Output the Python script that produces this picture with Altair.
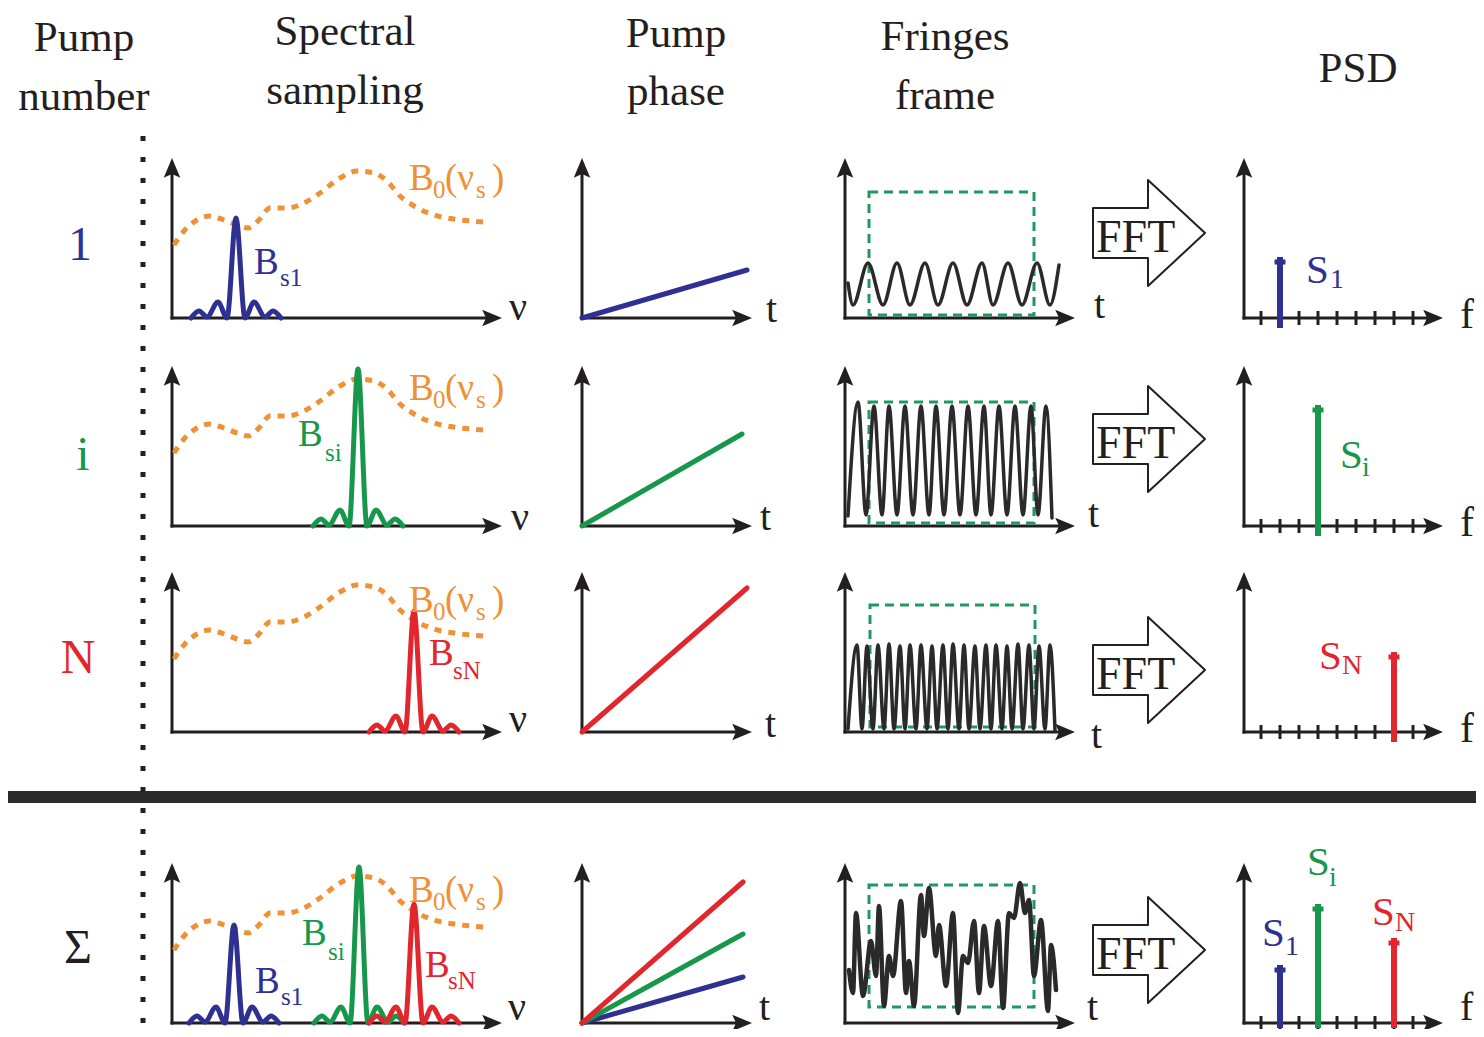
import altair as alt
import pandas as pd

FONT = "Liberation Serif"
INK = "#231F20"
BLUE, GREEN, RED = "#2E3192", "#16974B", "#E1262D"
ORANGE = "#EF9135"
FRAME = "#1F9A5E"

# ------------------------------------------------------------------ data
HEADER_TOP = ["Pump", "Spectral", "Pump", "Fringes", "PSD"]
HEADER_BOTTOM = ["number", "sampling", "phase", "frame", ""]
ROW_LABELS = ["1", "i", "N", "Σ"]
ROW_LABEL_COLORS = [BLUE, GREEN, RED, INK]
PUMP_COLORS = [BLUE, GREEN, RED]
SUB_B = ["s1", "si", "sN"]
SUB_S = ["1", "i", "N"]

# source spectrum B0(nu_s): nu offset / level (panel units)
B0_NU = [2, 12, 25, 38, 52, 65, 76, 86, 98, 115, 132, 148, 168, 185, 202, 215, 228, 242, 262, 282, 312]
B0_LEVEL = [73, 87, 98, 102, 98, 93, 90, 97, 110, 110, 115, 125, 140, 147, 145, 137, 122, 112, 103, 99, 96]

# sampled line shape (sinc-like): offsets and side-lobe levels, main lobe flag
SINC_DNU = [-45, -37, -29, -18, -9, 0, 9, 18, 29, 37, 45]
SINC_LOBE = [0, 7, 1, 16, 0, 0, 0, 16, 1, 7, 0]
SINC_MAIN = [0, 0, 0, 0, 0, 1, 0, 0, 0, 0, 0]

SAMPLE_NU = [64, 186, 242]
SAMPLE_AMP = [100, 157, 121]
SUM_SAMPLE_NU = [62, 187, 242]
SUM_SAMPLE_AMP = [98, 156, 119]

PHASE_T_END = [165, 160, 165]
PHASE_END = [48, 92, 144]
SUM_PHASE_T_END = 161
SUM_PHASE_END = [46, 89, 141]

# fringes: extrema (time, intensity)
FR1_T = [3, 8, 23, 38, 52, 65, 80, 93, 108, 122, 137, 148, 163, 177, 192, 205, 214]
FR1_I = [35, 13, 55, 13, 55, 13, 55, 13, 55, 13, 55, 13, 55, 13, 55, 13, 53]
FR2_T = [3, 13, 21, 29, 37, 44, 52, 60, 68, 76, 84, 91, 99, 107, 115, 123, 131, 139, 146, 154,
         162, 170, 178, 186, 193, 201, 207]
FR2_I = [10, 124, 11, 120, 11, 120, 11, 120, 11, 120, 11, 120, 11, 120, 11, 120, 11, 120, 11, 120,
         11, 120, 11, 120, 11, 120, 8]
FR3_T = [3, 12, 17, 22, 28, 33, 39, 44, 49, 55, 60, 65, 71, 76, 82, 87, 92, 98, 103, 108, 114, 119,
         124, 130, 135, 141, 146, 151, 157, 162, 167, 173, 178, 184, 189, 194, 200, 205, 210]
FR3_I = [3, 87, 3, 86, 3, 87, 3, 88, 3, 86, 3, 87, 3, 87, 3, 86, 3, 87, 3, 88, 3, 87, 3, 86,
         3, 87, 3, 87, 3, 86, 3, 88, 3, 87, 3, 86, 3, 87, 2]
FRS_T = [4, 8, 11, 18, 26, 31, 34, 39, 44, 48, 56, 61, 64, 69, 76, 79, 84, 91, 94, 101, 108, 113,
         118, 123, 129, 134, 139, 146, 153, 158, 164, 169, 175, 180, 184, 189, 196, 203, 206, 211]
FRS_I = [53, 30, 110, 27, 82, 47, 117, 17, 67, 47, 122, 30, 62, 17, 128, 87, 135, 67, 98, 37, 110, 10,
         67, 60, 102, 30, 97, 37, 102, 15, 110, 105, 140, 110, 123, 47, 103, 12, 78, 33]
FRINGE_T = [FR1_T, FR2_T, FR3_T, FRS_T]
FRINGE_I = [FR1_I, FR2_I, FR3_I, FRS_I]

PSD_BINS = [1, 2, 3, 4, 5, 6, 7, 8, 9]
PSD_BIN_OF = [2, 4, 8]
PSD_AMP = [61, 121, 80]
SUM_PSD_AMP = [58, 119, 85]

# ------------------------------------------------------------------ layout (reference pixels)
ROW_Y = [318, 526, 732, 1023]
SPEC_X0, PHASE_X0, FR_X0, PSD_X0 = 172, 582, 845, 1244
XLEN = {"spec": 330, "phase": 170, "fr": 230, "psd": 199}
YLEN = 160
PSD_BIN_X0, PSD_BIN_STEP = -2, 19

NU_LABEL = [(509, 320), (511, 530), (509, 732), (508, 1020)]
PHASE_T_LABEL = [(766, 322), (760, 530), (765, 737), (759, 1020)]
FR_T_LABEL = [(1094, 318), (1088, 527), (1091, 748), (1087, 1020)]
PSD_F_LABEL = [(1460, 328), (1460, 536), (1460, 742), (1460, 1020)]
B0_BASE = [190, 400, 612, 902]
BS_LABEL = [[(254, 274, 280, 286)], [(298, 446, 325, 461)], [(429, 665, 453, 679)],
            [(255, 993, 281, 1005), (302, 945, 328, 960), (425, 977, 448, 989)]]
S_LABEL = [[(1306, 283, 1330, 288)], [(1340, 468, 1362, 476)], [(1319, 669, 1342, 674)],
           [(1262, 946, 1285, 955), (1307, 875, 1329, 886), (1372, 925, 1395, 931)]]
FRAME_BOX = [(869, 1034, 192, 315), (869, 1034, 402, 523), (870, 1035, 605, 727), (869, 1034, 885, 1007)]
FFT_CENTER = [233, 439, 670, 950]
HEADER_X = [84, 345, 676, 945, 1358]
HEADER_Y1 = [51, 45, 47, 50, 82]
HEADER_Y2 = [110, 104, 105, 109, 0]
ROW_LABEL_POS = [(80, 260), (83, 470), (78, 673), (78, 963)]

# ------------------------------------------------------------------ builders
lines, rules, texts, heads_up, heads_right, boxes = {}, {}, [], [], [], []
gid = [0]


def add_line(xs, ys, color, width, dash=None, interp="linear"):
    key = (color, width, tuple(dash) if dash else (), interp)
    gid[0] += 1
    lst = lines.setdefault(key, [])
    for i, (a, b) in enumerate(zip(xs, ys)):
        lst.append({"x": a, "y": b, "g": gid[0], "o": i})


def add_rule(x, y, x2, y2, color, width):
    rules.setdefault((color, width), []).append({"x": x, "y": y, "x2": x2, "y2": y2})


def add_text(x, y, t, size, color=INK, align="left"):
    texts.append({"x": x, "y": y, "t": t, "s": size, "c": color, "a": align})


def axes(x0, y0, xlen, ylen=YLEN):
    add_rule(x0, y0 + 1.5, x0, y0 - ylen + 14, INK, 3)
    add_rule(x0 - 1.5, y0, x0 + xlen - 14, y0, INK, 3)
    heads_up.append({"x": x0, "y": y0 - ylen + 11})
    heads_right.append({"x": x0 + xlen - 11, "y": y0})


def sinc(center, amp, y0, color):
    xs = [SPEC_X0 + center + d for d in SINC_DNU]
    ys = [y0 - (amp if m else l) for l, m in zip(SINC_LOBE, SINC_MAIN)]
    add_line(xs, ys, color, 5, interp="monotone")


def sub_label(main, sub, pos, color, msize, ssize):
    x, y, xs, ys = pos
    add_text(x, y, main, msize, color)
    add_text(xs, ys, sub, ssize, color)


# headers
for i in range(5):
    add_text(HEADER_X[i], HEADER_Y1[i], HEADER_TOP[i], 43, INK, "center")
    if HEADER_BOTTOM[i]:
        add_text(HEADER_X[i], HEADER_Y2[i], HEADER_BOTTOM[i], 43, INK, "center")

# separators
add_line([143, 143], [136, 1028], INK, 5, dash=[5, 16])
add_rule(8, 797, 1476, 797, "#2B2B2B", 12)

for r in range(4):
    y0 = ROW_Y[r]
    lx, ly = ROW_LABEL_POS[r]
    add_text(lx, ly, ROW_LABELS[r], 48, ROW_LABEL_COLORS[r], "center")

    # ---------------- spectral sampling
    axes(SPEC_X0, y0, XLEN["spec"])
    add_line([SPEC_X0 + v for v in B0_NU], [y0 - v for v in B0_LEVEL], ORANGE, 5, dash=[7, 7], interp="monotone")
    if r < 3:
        sinc(SAMPLE_NU[r], SAMPLE_AMP[r], y0, PUMP_COLORS[r])
        sub_label("B", SUB_B[r], BS_LABEL[r][0], PUMP_COLORS[r], 37, 25)
    else:
        for k in range(3):
            sinc(SUM_SAMPLE_NU[k], SUM_SAMPLE_AMP[k], y0, PUMP_COLORS[k])
            sub_label("B", SUB_B[k], BS_LABEL[3][k], PUMP_COLORS[k], 37, 25)
    b = B0_BASE[r]
    add_text(409, b, "B", 37, ORANGE)
    add_text(433, b + 8, "0", 25, ORANGE)
    add_text(445, b, "(ν", 37, ORANGE)
    add_text(476, b + 8, "s", 25, ORANGE)
    add_text(492, b, ")", 37, ORANGE)
    add_text(NU_LABEL[r][0], NU_LABEL[r][1], "ν", 40)

    # ---------------- pump phase
    axes(PHASE_X0, y0, XLEN["phase"])
    if r < 3:
        add_line([PHASE_X0, PHASE_X0 + PHASE_T_END[r]], [y0, y0 - PHASE_END[r]], PUMP_COLORS[r], 5)
    else:
        for k in (2, 1, 0):
            add_line([PHASE_X0, PHASE_X0 + SUM_PHASE_T_END], [y0, y0 - SUM_PHASE_END[k]], PUMP_COLORS[k], 5)
    add_text(PHASE_T_LABEL[r][0], PHASE_T_LABEL[r][1], "t", 40)

    # ---------------- fringes
    axes(FR_X0, y0, XLEN["fr"])
    add_line([FR_X0 + t for t in FRINGE_T[r]], [y0 - v for v in FRINGE_I[r]], "#2A2A2A",
             3.5 if r < 3 else 4.5, interp="monotone")
    bx = FRAME_BOX[r]
    boxes.append({"x": bx[0], "x2": bx[1], "y": bx[2], "y2": bx[3]})
    add_text(FR_T_LABEL[r][0], FR_T_LABEL[r][1], "t", 40)

    # ---------------- FFT arrow
    c = FFT_CENTER[r]
    add_line([1093, 1148, 1148, 1205, 1148, 1148, 1093, 1093],
             [c - 25, c - 25, c - 53, c, c + 53, c + 25, c + 25, c - 25], INK, 2)
    add_text(1096, c + 19, "FFT", 46)

    # ---------------- PSD
    axes(PSD_X0, y0, XLEN["psd"])
    for k in PSD_BINS:
        xk = PSD_X0 + PSD_BIN_X0 + PSD_BIN_STEP * k
        add_rule(xk, y0 - 7, xk, y0 + 7, INK, 3)
    pumps = [r] if r < 3 else [0, 1, 2]
    for j, k in enumerate(pumps):
        amp = PSD_AMP[k] if r < 3 else SUM_PSD_AMP[k]
        xk = PSD_X0 + PSD_BIN_X0 + PSD_BIN_STEP * PSD_BIN_OF[k]
        add_rule(xk, min(y0 + 10, 1028), xk, y0 - amp, PUMP_COLORS[k], 6)
        add_rule(xk - 5.5, y0 - amp + 5, xk + 5.5, y0 - amp + 5, PUMP_COLORS[k], 5)
        sub_label("S", SUB_S[k], S_LABEL[r][j], PUMP_COLORS[k], 41, 28)
    add_text(PSD_F_LABEL[r][0], PSD_F_LABEL[r][1], "f", 42 if r < 3 else 40)

# ------------------------------------------------------------------ chart
X = alt.X("x:Q", scale=alt.Scale(domain=[8, 1476], nice=False, zero=False), axis=None)
Y = alt.Y("y:Q", scale=alt.Scale(domain=[8, 1029], nice=False, zero=False, reverse=True), axis=None)

layers = []
for (color, width), rows in rules.items():
    layers.append(alt.Chart(pd.DataFrame(rows)).mark_rule(color=color, strokeWidth=width, strokeCap="butt")
                  .encode(x=X, y=Y, x2="x2:Q", y2="y2:Q"))

layers.append(alt.Chart(pd.DataFrame(boxes)).mark_rect(fillOpacity=0, stroke=FRAME, strokeWidth=3, strokeDash=[9, 6])
              .encode(x=X, y=Y, x2="x2:Q", y2="y2:Q"))

for (color, width, dash, interp), rows in lines.items():
    mk = dict(color=color, strokeWidth=width, interpolate=interp, strokeJoin="round", strokeCap="round")
    if dash:
        mk["strokeDash"] = list(dash)
        mk["strokeCap"] = "butt"
    layers.append(alt.Chart(pd.DataFrame(rows)).mark_line(**mk).encode(x=X, y=Y, detail="g:N", order="o:Q"))

UP = "M0,-1L0.75,0.8L0,0.45L-0.75,0.8Z"
RIGHT = "M1,0L-0.8,0.75L-0.45,0L-0.8,-0.75Z"
layers.append(alt.Chart(pd.DataFrame(heads_up)).mark_point(shape=UP, size=484, filled=True, color=INK, opacity=1)
              .encode(x=X, y=Y))
layers.append(alt.Chart(pd.DataFrame(heads_right)).mark_point(shape=RIGHT, size=484, filled=True, color=INK, opacity=1)
              .encode(x=X, y=Y))

tdf = pd.DataFrame(texts)
for align in ("left", "center"):
    sub = tdf[tdf["a"] == align]
    layers.append(alt.Chart(sub).mark_text(align=align, baseline="alphabetic", font=FONT)
                  .encode(x=X, y=Y, text="t:N",
                          size=alt.Size("s:Q", scale=None),
                          color=alt.Color("c:N", scale=None)))

chart = (alt.layer(*layers)
         .properties(width=1468, height=1021, padding=0, background="white",
                     autosize=alt.AutoSizeParams(type="none"))
         .configure_view(stroke=None))
chart.save("out.html", embed_options={"renderer": "svg", "actions": False})
